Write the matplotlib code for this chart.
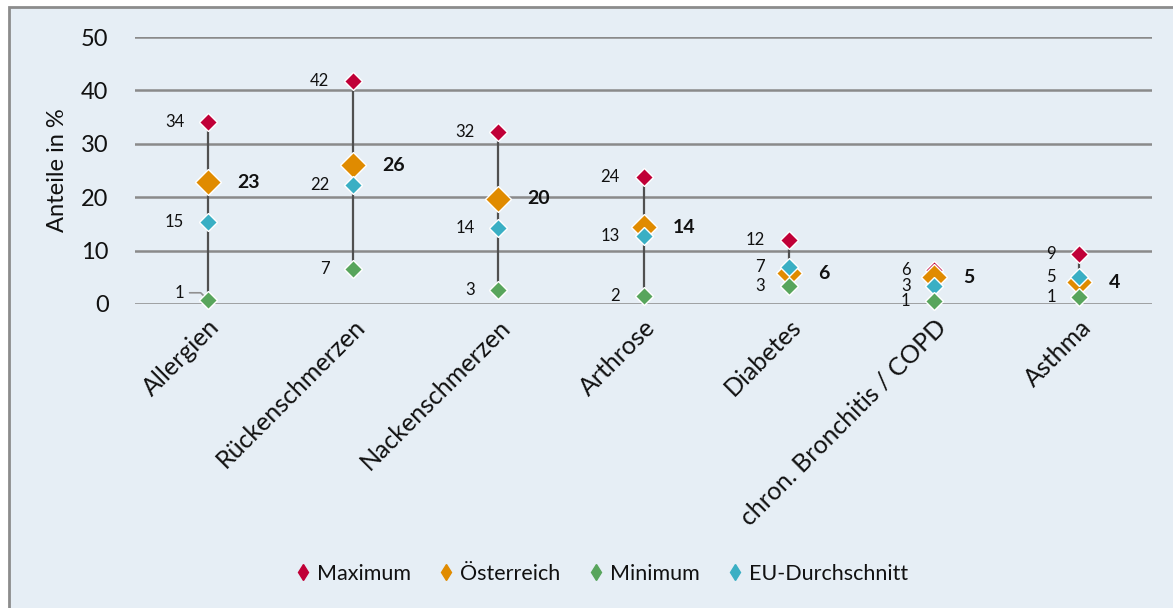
import matplotlib.pyplot as plt
from matplotlib.lines import Line2D
from matplotlib.patches import Rectangle

# Anteile in % je Erkrankung
categories = ["Allergien", "Rückenschmerzen", "Nackenschmerzen", "Arthrose",
              "Diabetes", "chron. Bronchitis / COPD", "Asthma"]
maximum = [34.1, 41.8, 32.2, 23.8, 12.0, 6.4, 9.4]
oesterreich = [22.8, 26.0, 19.7, 14.4, 5.8, 5.0, 4.1]
eu_schnitt = [15.3, 22.2, 14.3, 12.7, 7.0, 3.4, 5.1]
minimum = [0.8, 6.6, 2.6, 1.5, 3.4, 0.6, 1.4]

C_MAX = "#c00037"
C_AT = "#e08b00"
C_MIN = "#58a55c"
C_EU = "#3aafc4"
BG = "#e6eef5"

plt.rcParams["font.family"] = ["Lato", "DejaVu Sans"]

fig = plt.figure(figsize=(11.73, 6.08), dpi=100, facecolor="white")
# Rahmen mit hellblauem Hintergrund
fig.patches.append(Rectangle((9 / 1173, -0.1), 1.2, 1.1 - 7 / 608,
                             transform=fig.transFigure, facecolor=BG,
                             edgecolor="#8c8c8c", linewidth=2, zorder=-10))

ax = fig.add_axes([135 / 1173, 0.5, (1152 - 135) / 1173, 0.4391])
ax.set_facecolor("none")
x = list(range(len(categories)))

ax.set_xlim(-0.5, len(categories) - 0.5)
ax.set_ylim(0, 50)
ax.set_yticks(range(0, 51, 10))
ax.grid(axis="y", color="#8a8a8a", linewidth=1.8)
ax.set_axisbelow(True)
for s in ax.spines.values():
    s.set_visible(False)
ax.tick_params(axis="both", length=0, labelsize=17, colors="#111111")
ax.tick_params(axis="y", pad=19)
ax.set_xticks(x)
ax.set_xticklabels(categories, rotation=45, ha="right", rotation_mode="anchor",
                   fontsize=18)
ax.tick_params(axis="x", pad=8)
ax.set_ylabel("Anteile in %", fontsize=17, color="#111111", labelpad=9)

# Spannweite Minimum - Maximum
ax.vlines(x, minimum, maximum, color="#505050", linewidth=1.6, zorder=2)

ax.plot(x, maximum, "D", ms=9.5, color=C_MAX, mec="white", mew=1, ls="none", zorder=3, clip_on=False)
ax.plot(x, oesterreich, "D", ms=13, color=C_AT, mec="white", mew=1, ls="none", zorder=4, clip_on=False)
ax.plot(x, eu_schnitt, "D", ms=9.5, color=C_EU, mec="white", mew=1, ls="none", zorder=5, clip_on=False)
ax.plot(x, minimum, "D", ms=9.5, color=C_MIN, mec="white", mew=1, ls="none", zorder=6, clip_on=False)

# Werte beschriften
for i in x:
    for vals in (maximum, eu_schnitt, minimum):
        dy = 0
        if vals is minimum and i == 0:
            dy = 5
        ax.annotate(f"{vals[i]:.0f}", (i, vals[i]), xytext=(-17, dy),
                    textcoords="offset points", ha="right", va="center",
                    fontsize=12, color="#111111", annotation_clip=False)
    ax.annotate(f"{oesterreich[i]:.0f}", (i, oesterreich[i]), xytext=(21, 0),
                textcoords="offset points", ha="left", va="center",
                fontsize=14, fontweight="bold", color="#111111")

# Hinweislinie zum Minimum bei Allergien
ax.annotate("", (0, minimum[0]), xytext=(-13, 5), textcoords="offset points",
            arrowprops=dict(arrowstyle="-", color="#909090", lw=1.2,
                            connectionstyle="angle,angleA=0,angleB=-45,rad=0",
                            shrinkA=0, shrinkB=2), annotation_clip=False)

handles = [
    Line2D([], [], marker="d", ls="none", color=C_MAX, ms=8, label="Maximum"),
    Line2D([], [], marker="d", ls="none", color=C_AT, ms=8, label="Österreich"),
    Line2D([], [], marker="d", ls="none", color=C_MIN, ms=8, label="Minimum"),
    Line2D([], [], marker="d", ls="none", color=C_EU, ms=8, label="EU-Durchschnitt"),
]
fig.legend(handles=handles, loc="center", bbox_to_anchor=(0.513, 0.056), ncol=4,
           frameon=False, fontsize=15.5, handlelength=0.7, handletextpad=0.3,
           columnspacing=1.3, labelcolor="#111111")

fig.savefig("out.png", dpi=100, facecolor=fig.get_facecolor())
